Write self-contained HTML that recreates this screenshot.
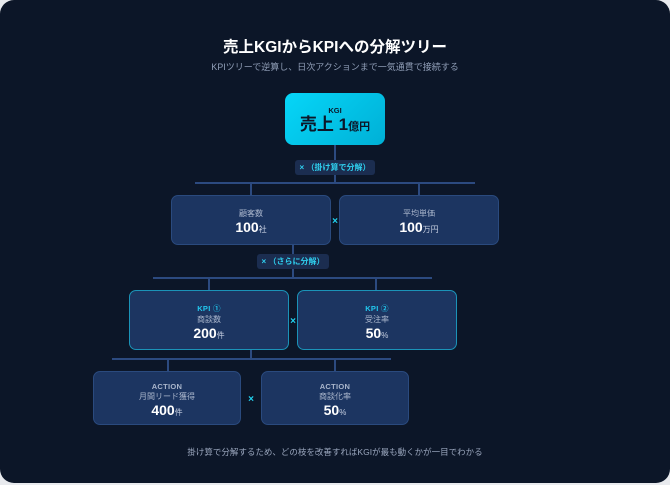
<!DOCTYPE html>
<html><head><meta charset="utf-8"><style>
*{margin:0;padding:0;box-sizing:border-box}
body{width:670px;height:485px;background:#e8eaee;position:relative;overflow:hidden;font-family:"Liberation Sans","Noto Sans CJK JP",sans-serif}
#card{position:absolute;left:0;top:0;width:670px;height:483px;background:#0c1628;border-radius:14px}
.a{position:absolute}
.t{position:absolute;left:0;width:670px;text-align:center}
.ln{position:absolute;background:#2c4a80}
.box{position:absolute;background:#1c3561;border:1px solid #2a4a7e;border-radius:7px;text-align:center;color:#fff}
.kpi{border-color:#1b93b8}
.lab{position:absolute;background:#1b2d50;border-radius:3px;color:#2fd0f0;font-size:8px;font-weight:bold;text-align:center;line-height:15px}
.x{position:absolute;color:#22d3f0;font-weight:bold;font-size:10px;width:10px;text-align:center;line-height:10px}
.s{font-size:7.5px;font-weight:bold;color:#aab6cc;letter-spacing:.3px}
.n{font-size:8px;color:#aab6cc}
.v{font-size:14px;font-weight:bold}
.v small{font-size:8px;font-weight:normal;color:#c5cee0}
</style></head><body>
<div id="card"></div>
<div class="t" style="top:35px;font-size:15.5px;font-weight:bold;color:#fff">売上KGIからKPIへの分解ツリー</div>
<div class="t" style="top:60px;font-size:9px;color:#8f9db6">KPIツリーで逆算し、日次アクションまで一気通貫で接続する</div>

<div class="a" style="left:285px;top:93px;width:100px;height:52px;border-radius:8px;background:linear-gradient(135deg,#06d6f8,#00b0d6);text-align:center;color:#0c1628">
<div style="font-size:7.5px;font-weight:bold;margin-top:13px">KGI</div>
<div style="font-size:17px;font-weight:bold;line-height:20px">売上 1<span style="font-size:11px">億円</span></div></div>

<div class="ln" style="left:334px;top:145px;width:2px;height:39px"></div>
<div class="lab" style="left:295px;top:160px;width:80px">× （掛け算で分解）</div>
<div class="ln" style="left:195px;top:182px;width:280px;height:2px"></div>
<div class="ln" style="left:250px;top:182px;width:2px;height:14px"></div>
<div class="ln" style="left:418px;top:182px;width:2px;height:14px"></div>

<div class="box" style="left:171px;top:195px;width:160px;height:50px"><div class="n" style="margin-top:12px">顧客数</div><div class="v">100<small>社</small></div></div>
<div class="box" style="left:339px;top:195px;width:160px;height:50px"><div class="n" style="margin-top:12px">平均単価</div><div class="v">100<small>万円</small></div></div>
<div class="x" style="left:330px;top:217px">×</div>

<div class="ln" style="left:292px;top:245px;width:2px;height:34px"></div>
<div class="lab" style="left:257px;top:254px;width:72px">× （さらに分解）</div>
<div class="ln" style="left:153px;top:277px;width:279px;height:2px"></div>
<div class="ln" style="left:208px;top:277px;width:2px;height:14px"></div>
<div class="ln" style="left:375px;top:277px;width:2px;height:14px"></div>

<div class="box kpi" style="left:129px;top:290px;width:160px;height:60px"><div class="s" style="margin-top:12px;color:#22c8ef">KPI ①</div><div class="n">商談数</div><div class="v">200<small>件</small></div></div>
<div class="box kpi" style="left:297px;top:290px;width:160px;height:60px"><div class="s" style="margin-top:12px;color:#22c8ef">KPI ②</div><div class="n">受注率</div><div class="v">50<small>%</small></div></div>
<div class="x" style="left:288px;top:317px">×</div>

<div class="ln" style="left:250px;top:350px;width:2px;height:10px"></div>
<div class="ln" style="left:112px;top:358px;width:279px;height:2px"></div>
<div class="ln" style="left:167px;top:358px;width:2px;height:14px"></div>
<div class="ln" style="left:334px;top:358px;width:2px;height:14px"></div>

<div class="box" style="left:93px;top:371px;width:148px;height:54px"><div class="s" style="margin-top:10px">ACTION</div><div class="n">月間リード獲得</div><div class="v">400<small>件</small></div></div>
<div class="box" style="left:261px;top:371px;width:148px;height:54px"><div class="s" style="margin-top:10px">ACTION</div><div class="n">商談化率</div><div class="v">50<small>%</small></div></div>
<div class="x" style="left:246px;top:395px">×</div>

<div class="t" style="top:446px;font-size:8.5px;color:#9aa6bd">掛け算で分解するため、どの枝を改善すればKGIが最も動くかが一目でわかる</div>
</body></html>
